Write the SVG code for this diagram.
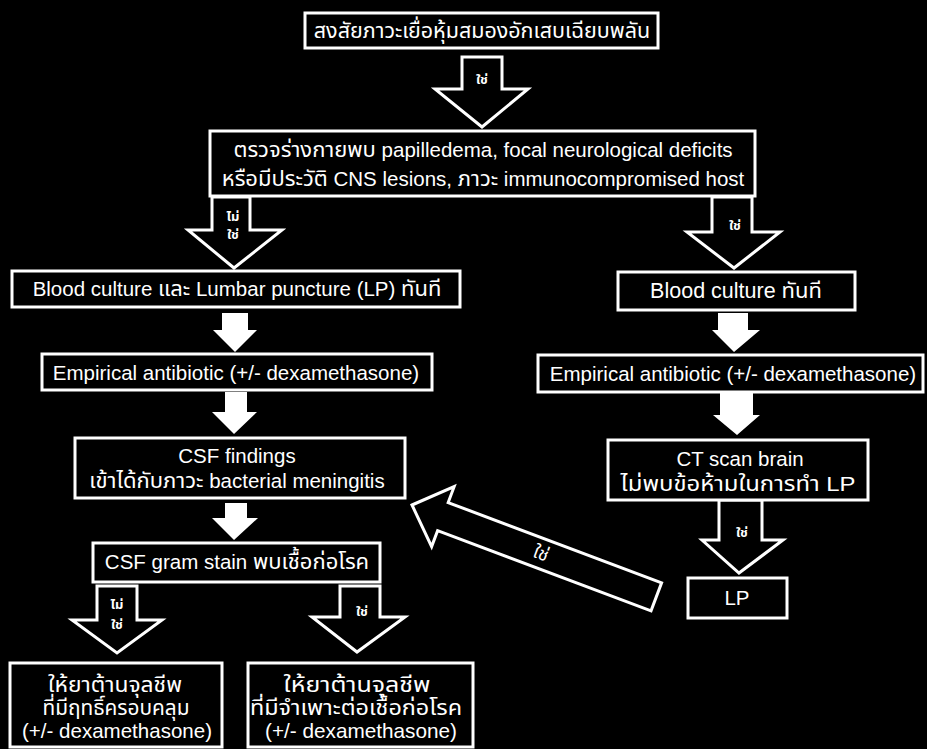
<svg xmlns="http://www.w3.org/2000/svg" width="927" height="749" viewBox="0 0 927 749">
<style>
  .box { fill: #000; stroke: #fff; stroke-width: 3; }
  .t { fill: #fff; font-family: "Liberation Sans", "Noto Sans Thai", "DejaVu Sans", sans-serif; font-size: 20.5px; text-anchor: middle; }
  .th { font-size: 22px; }
  .b21 { font-size: 21px; }
  .harrow { fill: #000; stroke: #fff; stroke-width: 3; stroke-linejoin: miter; }
  .sarrow { fill: #fff; stroke: none; }
  .lbl { fill: #fff; font-family: "Liberation Sans", "Noto Sans Thai", "DejaVu Sans", sans-serif; font-size: 13px; font-weight: bold; text-anchor: middle; }
</style>
<rect x="0" y="0" width="927" height="749" fill="#000"/>

<g id="connectors">
  <polygon class="harrow" points="462,57 502,57 502,89 528,89 482,127 435,89 462,89"/>
  <text class="lbl" x="482" y="84">ใช่</text>

  <polygon class="harrow" points="212,197 250,197 250,230 282,230 234,268 188,230 212,230"/>
  <text class="lbl" x="233" y="221">ไม่</text>
  <text class="lbl" x="233" y="239">ใช่</text>

  <polygon class="harrow" points="712,197 752,197 752,232 780,232 734,268 687,232 712,232"/>
  <text class="lbl" x="735" y="230">ใช่</text>

  <polygon class="sarrow" points="222,313 248,313 248,330 257,330 235,352 213,330 222,330"/>
  <polygon class="sarrow" points="718,313 748,313 748,330 760,330 734,352 712,330 718,330"/>

  <polygon class="sarrow" points="225,392 247,392 247,412 257,412 234,434 212,412 225,412"/>
  <polygon class="sarrow" points="720,393 753,393 753,415 760,415 737,435 713,415 720,415"/>

  <polygon class="sarrow" points="225,503 247,503 247,518 258,518 234,540 212,518 225,518"/>

  <polygon class="harrow" points="719,500 762,500 762,540 783,540 739,573 702,540 719,540"/>
  <text class="lbl" x="742" y="537">ใช่</text>

  <g transform="translate(412,505) rotate(20.6)">
    <polygon class="harrow" points="0,0 33,-32 33,-15 261,-15 261,15 33,15 33,32"/>
    <text class="lbl" x="138" y="6" style="font-size:18px;font-weight:normal">ใช่</text>
  </g>

  <polygon class="harrow" points="97,586 137,586 137,620 162,620 117,653 72,620 97,620"/>
  <text class="lbl" x="117" y="609">ไม่</text>
  <text class="lbl" x="117" y="629">ใช่</text>

  <polygon class="harrow" points="340,586 380,586 380,617 405,617 357,652 312,617 340,617"/>
  <text class="lbl" x="362" y="616">ใช่</text>
</g>

<g id="n1">
  <rect class="box" x="305" y="13" width="353" height="35"/>
  <text class="t" x="482" y="38" style="font-size:21.5px">สงสัยภาวะเยื่อหุ้มสมองอักเสบเฉียบพลัน</text>
</g>
<g id="n2">
  <rect class="box" x="210" y="131" width="545" height="65"/>
  <text class="t" x="483" y="157"><tspan class="th">ตรวจร่างกายพบ</tspan> papilledema, focal neurological deficits</text>
  <text class="t" x="483" y="186"><tspan class="th">หรือมีประวัติ</tspan> CNS lesions, <tspan class="th">ภาวะ</tspan> immunocompromised host</text>
</g>
<g id="n3">
  <rect class="box" x="12" y="271" width="448" height="36"/>
  <text class="t" x="237" y="296">Blood culture <tspan class="th">และ</tspan> Lumbar puncture (LP) <tspan class="th">ทันที</tspan></text>
</g>
<g id="n4">
  <rect class="box" x="618" y="272" width="237" height="38"/>
  <text class="t" x="736" y="298" style="font-size:21.5px">Blood culture <tspan class="th">ทันที</tspan></text>
</g>
<g id="n5">
  <rect class="box" x="42" y="354" width="390" height="36"/>
  <text class="t" x="236" y="380">Empirical antibiotic (+/- dexamethasone)</text>
</g>
<g id="n6">
  <rect class="box" x="538" y="355" width="385" height="37"/>
  <text class="t" x="733" y="381">Empirical antibiotic (+/- dexamethasone)</text>
</g>
<g id="n7">
  <rect class="box" x="75" y="438" width="330" height="60"/>
  <text class="t" x="237" y="463">CSF findings</text>
  <text class="t" x="237" y="488"><tspan class="th">เข้าได้กับภาวะ</tspan> bacterial meningitis</text>
</g>
<g id="n8">
  <rect class="box" x="93" y="543" width="287" height="39"/>
  <text class="t" x="237" y="569">CSF gram stain <tspan class="th">พบเชื้อก่อโรค</tspan></text>
</g>
<g id="n9">
  <rect class="box" x="608" y="440" width="260" height="60"/>
  <text class="t" x="740" y="466">CT scan brain</text>
  <text class="t b21" x="738" y="491" textLength="235" lengthAdjust="spacingAndGlyphs">ไม่พบข้อห้ามในการทำ LP</text>
</g>
<g id="n10">
  <rect class="box" x="688" y="578" width="99" height="40"/>
  <text class="t" x="737" y="605">LP</text>
</g>
<g id="n11">
  <rect class="box" x="10" y="663" width="212" height="84"/>
  <text class="t b21" x="115" y="692" textLength="134" lengthAdjust="spacingAndGlyphs">ให้ยาต้านจุลชีพ</text>
  <text class="t b21" x="116" y="715" textLength="147" lengthAdjust="spacingAndGlyphs">ที่มีฤทธิ์ครอบคลุม</text>
  <text class="t b21" x="117" y="738" textLength="190" lengthAdjust="spacingAndGlyphs">(+/- dexamethasone)</text>
</g>
<g id="n12">
  <rect class="box" x="248" y="663" width="225" height="84"/>
  <text class="t b21" x="357" y="692" textLength="147" lengthAdjust="spacingAndGlyphs">ให้ยาต้านจุลชีพ</text>
  <text class="t b21" x="356" y="715" textLength="212" lengthAdjust="spacingAndGlyphs">ที่มีจำเพาะต่อเชื้อก่อโรค</text>
  <text class="t b21" x="361" y="738" textLength="192" lengthAdjust="spacingAndGlyphs">(+/- dexamethasone)</text>
</g>
</svg>
